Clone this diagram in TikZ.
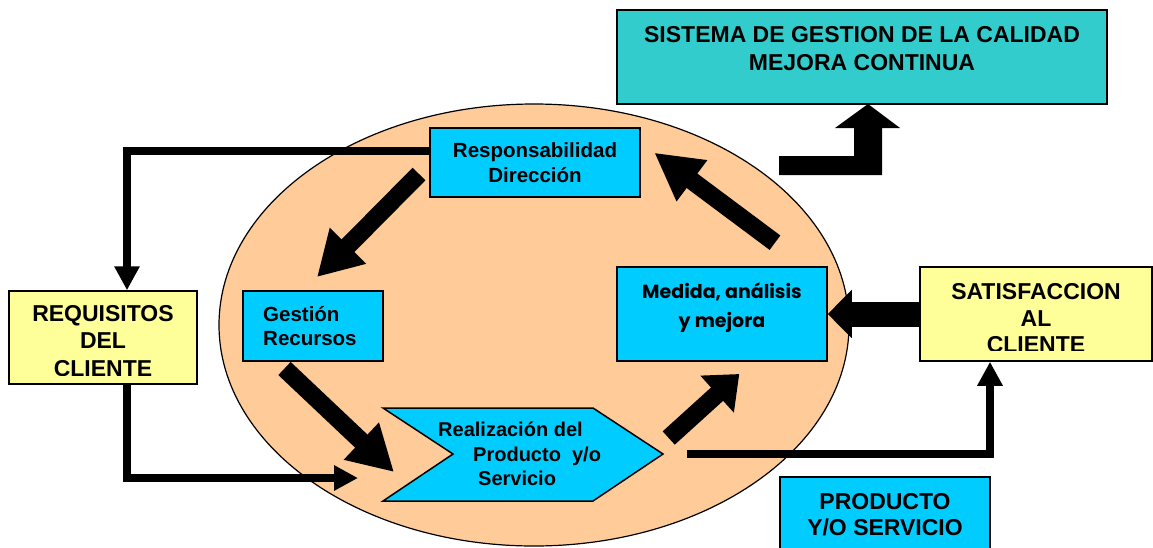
\documentclass[tikz,border=0pt]{standalone}
\usepackage{fontspec}
\setmainfont{Liberation Sans}
\newfontfamily\medfont{Poppins}
\usetikzlibrary{arrows.meta}

\definecolor{peach}{HTML}{FFCC99}
\definecolor{skyblue}{HTML}{00CCFF}
\definecolor{tealfill}{HTML}{33CCCC}
\definecolor{paleyellow}{HTML}{FFFF99}

\tikzset{
  box/.style={draw, line width=1.5pt, inner sep=0pt},
  txt/.style={font=\bfseries\fontsize{20.5}{24.5}\selectfont, align=center, inner sep=0pt},
  captxt/.style={font=\bfseries\fontsize{23}{26.5}\selectfont, align=center, inner sep=0pt},
  thinarrow/.style={line width=8pt, -{Triangle[width=24pt,length=24pt]}},
  fatarrow/.style={line width=18pt, -{Triangle[width=48pt,length=#1]}}
}

\begin{document}
\begin{tikzpicture}[x=1pt, y=-1pt]
\useasboundingbox (0,0) rectangle (1153,547);

\draw[fill=peach, line width=1.2pt] (534,325) ellipse [x radius=315pt, y radius=221pt];

% boxes
\node[box, line width=2pt, fill=tealfill, minimum width=490pt, minimum height=94pt] (sis) at (862,57) {};
\node[captxt, font=\bfseries\fontsize{23}{28}\selectfont] (sistxt) at (862,49) {SISTEMA DE GESTION DE LA CALIDAD\\MEJORA CONTINUA};

\node[box, fill=skyblue, minimum width=210pt, minimum height=69pt] (resp) at (535,162.5) {};
\node[txt] (resptxt) at (535,162.5) {Responsabilidad\\Direcci\'on};

\node[box, fill=skyblue, minimum width=140pt, minimum height=70pt] (gest) at (313,326) {};
\node[txt, align=left, anchor=west] (gesttxt) at (263,326) {Gesti\'on\\Recursos};

\node[box, fill=paleyellow, minimum width=188pt, minimum height=93pt] (req) at (103,337.5) {};
\begin{scope}
\clip (0,291) rectangle (200,375);
\node[captxt, font=\bfseries\fontsize{23}{27.5}\selectfont] (reqtxt) at (103,341) {REQUISITOS\\DEL\\CLIENTE};
\end{scope}

\node[box, fill=skyblue, minimum width=210pt, minimum height=94pt] (med) at (722,314) {};
\node[txt, font=\medfont\bfseries\fontsize{19}{29}\selectfont] (medtxt) at (722,307.5) {Medida, an\'alisis\\y mejora};

\node[box, fill=paleyellow, minimum width=232pt, minimum height=94pt] (sat) at (1036,314) {};
\begin{scope}
\clip (900,267) rectangle (1153,350.5);
\node[captxt] (sattxt) at (1036,318.5) {SATISFACCION\\AL\\CLIENTE};
\end{scope}

\node[box, fill=skyblue, minimum width=210pt, minimum height=93pt] (prod) at (885,523.5) {};
\node[captxt, font=\bfseries\fontsize{23}{26}\selectfont] (prodtxt) at (885,515) {PRODUCTO\\Y/O SERVICIO};

\draw[fill=skyblue, line width=1.5pt] (383,408) -- (593,408) -- (663,454) -- (593,501) -- (383,501) -- (453,454) -- cycle;
\node[txt, align=left, anchor=west, font=\bfseries\fontsize{20}{24.5}\selectfont] (real) at (438,454)
  {Realizaci\'on del\\\hspace*{35pt}Producto\ \ y/o\\\hspace*{40pt}Servicio};

% free ends
\coordinate (realin) at (358,478);
\coordinate (realout) at (687,454);
\coordinate (respout) at (419,174);
\coordinate (gestin) at (317,277);
\coordinate (gestout) at (284.5,368.5);
\coordinate (realtop) at (394,472);
\coordinate (realup) at (668.7,438);
\coordinate (medin) at (739.3,374);
\coordinate (medout) at (775,242.7);
\coordinate (respin) at (654.3,152.7);

% thin connectors
\draw[thinarrow] ([yshift=11.5pt]resp.west) -| ([xshift=24pt]req.north);
\draw[thinarrow] ([xshift=24pt]req.south) |- (realin);
\draw[thinarrow] (realout) -| ([xshift=-46pt]sat.south);

% cycle arrows
\draw[fatarrow=44pt] (respout) -- (gestin);
\draw[fatarrow=45pt] (gestout) -- (realtop);
\draw[fatarrow=30pt] (realup) -- (medin);
\draw[fatarrow=47pt] (medout) -- (respin);
\draw[line width=25pt, -{Triangle[width=47pt,length=24pt]}] (sat.west) -- (med.east);

% bent arrow up to the system box
\fill (779,156) -- (854,156) -- (854,128) -- (835,128) -- (868,104)
  -- (900,128) -- (882,128) -- (882,175) -- (779,175) -- cycle;
\end{tikzpicture}
\end{document}
